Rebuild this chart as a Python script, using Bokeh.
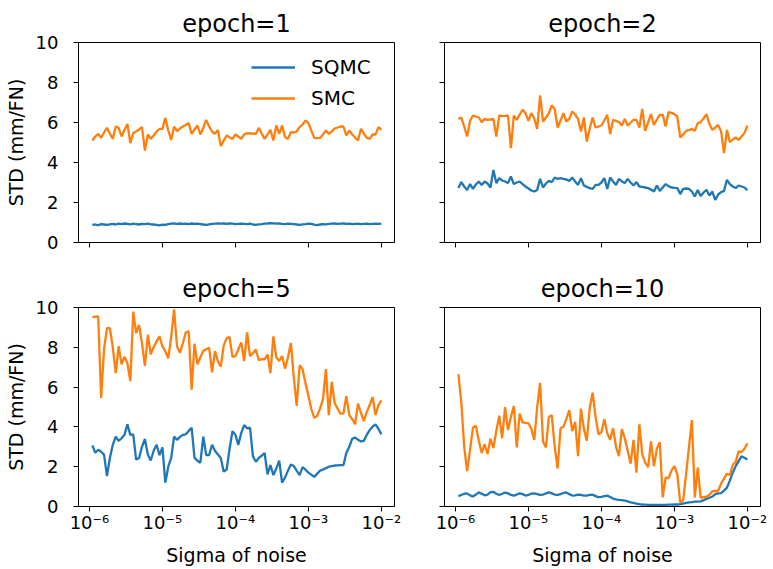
import numpy as np
from bokeh.plotting import figure
from bokeh.layouts import gridplot
from bokeh.models import Range1d, FixedTicker, CustomJSTickFormatter, Legend, LegendItem
from bokeh.embed import file_html
from bokeh.resources import INLINE

# noise levels (log-spaced grid of the experiment)
sigma = np.logspace(-5.96, -2.0, 100)

x_ticks = [1e-6, 1e-5, 1e-4, 1e-3, 1e-2]
y_ticks = [0, 2, 4, 6, 8, 10]
titles = ["epoch=1", "epoch=2", "epoch=5", "epoch=10"]
series_names = ["SQMC", "SMC"]

sqmc_e1 = [0.88,0.90,0.86,0.92,0.90,0.88,0.91,0.93,0.90,0.94,
           0.92,0.95,0.93,0.91,0.94,0.92,0.90,0.93,0.92,0.94,
           0.91,0.90,0.88,0.86,0.89,0.88,0.92,0.94,0.95,0.93,
           0.95,0.93,0.94,0.92,0.95,0.93,0.94,0.92,0.90,0.88,
           0.91,0.93,0.94,0.96,0.94,0.95,0.93,0.95,0.94,0.92,
           0.93,0.94,0.93,0.92,0.94,0.90,0.88,0.91,0.92,0.94,
           0.95,0.97,0.96,0.94,0.95,0.93,0.92,0.94,0.93,0.92,
           0.90,0.88,0.91,0.92,0.94,0.93,0.89,0.87,0.90,0.92,
           0.91,0.93,0.94,0.95,0.93,0.94,0.95,0.93,0.94,0.92,
           0.93,0.94,0.92,0.93,0.94,0.92,0.93,0.94,0.93,0.94]
smc_e1 = [5.10,5.30,5.43,5.23,5.50,5.73,5.45,5.18,5.80,5.73,
          5.30,5.62,5.93,4.97,5.47,5.55,5.65,5.77,4.60,5.40,
          5.18,5.35,5.55,5.68,5.68,6.23,5.60,5.13,5.80,5.57,
          5.70,5.80,5.88,5.97,5.43,5.65,5.85,5.40,5.75,6.13,
          5.80,5.55,5.43,5.63,4.82,5.10,5.35,5.25,5.18,5.40,
          5.30,5.18,5.40,5.47,5.45,5.45,5.43,5.73,5.45,5.18,
          5.40,5.63,5.10,5.85,5.43,5.85,5.27,5.18,5.52,5.50,
          5.55,5.77,5.90,6.10,5.97,5.60,5.23,5.22,5.23,5.40,
          5.60,5.43,5.55,5.70,5.75,5.80,5.80,5.35,5.60,5.40,
          5.25,5.10,5.68,5.45,5.23,5.18,5.40,5.40,5.77,5.63]
sqmc_e2 = [2.72,3.02,2.80,2.63,2.92,2.68,2.90,3.05,2.88,3.05,
           2.95,2.75,3.63,2.97,3.22,3.10,3.05,2.97,3.30,2.92,
           3.00,3.05,2.92,2.80,2.70,2.60,2.55,2.63,3.18,2.75,
           2.95,3.08,3.02,3.25,3.18,3.22,3.18,3.15,3.08,3.25,
           3.05,2.88,3.22,2.85,2.78,2.72,2.68,2.88,2.88,3.00,
           3.22,2.68,3.25,3.05,2.88,3.18,3.05,2.97,3.18,3.00,
           2.85,3.02,2.80,2.78,2.75,2.72,2.65,2.55,2.85,2.58,
           2.75,2.92,2.82,2.75,2.73,2.72,2.42,2.68,2.70,2.68,
           2.55,2.30,2.63,2.33,2.50,2.63,2.35,2.55,2.13,2.40,
           2.52,2.58,3.13,2.92,2.80,2.72,2.85,2.80,2.75,2.62]
smc_e2 = [6.18,6.25,5.80,5.30,6.08,6.35,6.30,6.25,6.02,6.18,
          6.13,6.15,6.18,5.30,6.35,6.32,6.33,6.35,4.72,6.35,
          6.13,6.40,6.63,6.47,6.08,6.47,6.20,5.68,7.35,6.05,
          6.25,6.47,6.85,6.68,5.75,6.10,6.47,6.05,6.18,6.55,
          6.40,6.18,5.55,6.25,5.05,5.70,6.25,5.75,5.80,5.85,
          6.10,6.38,5.42,6.13,6.08,6.02,5.85,6.18,5.85,6.00,
          6.13,6.13,5.75,6.68,5.58,6.00,6.42,5.88,6.15,6.38,
          6.38,5.80,6.52,6.48,6.42,6.30,5.25,5.40,5.58,5.62,
          5.68,5.58,5.97,6.02,6.20,6.42,5.92,5.63,5.75,5.88,
          5.55,4.47,5.63,5.02,5.15,5.25,5.13,5.30,5.47,5.85]
sqmc_e5 = [3.07,2.70,2.85,2.75,2.61,1.53,2.44,3.10,3.51,3.30,
           3.43,3.60,4.13,3.60,3.63,2.36,2.44,3.00,3.40,2.61,
           2.31,2.80,3.10,2.58,2.97,1.20,2.00,2.44,3.51,3.35,
           3.50,3.60,3.63,3.80,3.96,2.44,2.30,2.20,3.51,2.58,
           2.58,3.10,2.80,2.61,2.44,1.75,1.86,2.90,3.79,3.60,
           3.10,3.70,4.09,3.93,3.96,2.53,2.25,2.44,2.55,2.69,
           1.61,2.08,1.58,1.90,2.31,1.20,1.45,1.80,2.11,2.03,
           1.80,1.58,1.98,1.85,1.70,1.60,1.49,1.65,1.80,1.86,
           1.93,2.00,2.03,2.06,2.07,2.08,2.08,2.69,3.00,3.40,
           3.47,3.35,3.27,3.30,3.60,3.84,4.01,4.13,3.90,3.63]
smc_e5 = [9.50,9.54,9.55,5.45,7.89,8.96,8.96,8.00,6.70,8.05,
          7.15,7.52,7.20,6.30,9.79,8.71,9.12,8.20,7.06,8.63,
          7.65,8.00,8.30,8.55,8.05,7.80,7.45,8.50,9.90,8.05,
          7.72,8.20,8.75,8.80,5.87,8.18,7.15,7.50,7.81,7.90,
          7.98,6.74,7.81,7.30,7.03,8.10,8.46,8.51,7.52,7.56,
          7.89,8.25,7.31,8.75,7.56,7.70,7.89,7.36,7.40,7.39,
          7.64,6.70,8.55,7.50,7.31,7.56,6.93,7.50,8.22,6.50,
          5.05,7.10,6.90,6.20,5.58,4.90,4.46,4.55,4.92,5.40,
          6.90,4.59,6.27,5.20,4.92,4.67,4.67,5.55,4.59,4.40,
          4.13,5.17,4.70,4.29,4.75,5.10,5.50,4.59,5.10,5.33]
sqmc_e10 = [0.52,0.58,0.64,0.66,0.56,0.50,0.60,0.71,0.64,0.56,
            0.60,0.72,0.74,0.64,0.58,0.64,0.70,0.66,0.58,0.55,
            0.60,0.66,0.62,0.55,0.58,0.65,0.66,0.62,0.58,0.60,
            0.66,0.71,0.66,0.60,0.58,0.62,0.68,0.71,0.62,0.55,
            0.56,0.60,0.58,0.55,0.55,0.58,0.59,0.52,0.47,0.48,
            0.52,0.55,0.48,0.40,0.36,0.33,0.32,0.30,0.26,0.21,
            0.18,0.15,0.12,0.10,0.09,0.08,0.08,0.08,0.08,0.08,
            0.08,0.08,0.09,0.09,0.10,0.10,0.12,0.15,0.18,0.21,
            0.22,0.24,0.25,0.26,0.32,0.38,0.44,0.50,0.62,0.66,
            0.67,0.80,0.95,1.30,1.70,2.03,2.28,2.52,2.45,2.36]
smc_e10 = [6.65,5.25,3.00,1.78,2.85,3.96,4.06,3.30,2.69,3.13,
           2.64,3.40,2.94,3.80,4.56,3.43,4.99,3.84,4.50,5.05,
           2.97,4.67,4.23,4.20,4.18,3.90,3.35,5.00,6.21,3.27,
           2.97,4.50,4.59,3.00,1.91,3.93,4.01,4.40,4.84,3.79,
           4.26,2.53,4.92,3.90,3.30,4.96,5.72,4.50,3.63,3.73,
           4.39,3.68,3.35,3.93,3.00,2.53,3.89,3.43,2.80,2.15,
           3.35,1.70,4.13,2.61,2.20,1.98,3.27,2.03,2.90,3.23,
           0.46,1.45,1.42,1.80,2.03,1.62,0.20,0.30,1.60,3.00,
           4.34,0.46,1.95,0.43,0.48,0.49,0.59,0.76,0.78,0.79,
           1.15,1.40,1.65,1.58,2.10,2.24,2.77,2.74,2.90,3.18]

BLUE = "#1f77b4"
ORANGE = "#ff7f0e"
FONT = "DejaVu Sans"

sup_code = """
const e = Math.round(Math.log10(tick));
const sup = {'-':'\u207b','0':'\u2070','1':'\u00b9','2':'\u00b2','3':'\u00b3','4':'\u2074','5':'\u2075','6':'\u2076','7':'\u2077','8':'\u2078','9':'\u2079'};
return '10' + String(e).split('').map(c => sup[c]).join('');
"""


def make(title, sqmc, smc, show_x, show_y, width, height, bl, br, bt, bb, legend=False):
    p = figure(width=width, height=height, x_axis_type="log",
               x_range=Range1d(10 ** -6.15, 10 ** -1.82), y_range=Range1d(0, 10),
               output_backend="svg", toolbar_location=None,
               min_border_left=bl, min_border_right=br, min_border_top=bt, min_border_bottom=bb,
               title=title)
    p.title.align = "center"
    p.title.text_font = FONT
    p.title.text_font_size = "24px"
    p.title.text_font_style = "normal"
    p.title.text_color = "black"
    p.title.standoff = 9
    p.grid.visible = False
    p.outline_line_color = "black"
    p.outline_line_width = 1
    p.outline_line_alpha = 1

    r1 = p.line(sigma, sqmc, line_color=BLUE, line_width=2.3)
    r2 = p.line(sigma, smc, line_color=ORANGE, line_width=2.3)

    for ax in (p.xaxis[0], p.yaxis[0]):
        ax.axis_line_color = "black"
        ax.axis_line_width = 1
        ax.major_tick_line_color = "black"
        ax.major_tick_line_width = 1
        ax.major_tick_out = 5
        ax.major_tick_in = 0
        ax.minor_tick_line_color = None
        ax.major_label_text_font = FONT
        ax.major_label_text_color = "black"
        ax.axis_label_text_font = FONT
        ax.axis_label_text_font_style = "normal"
        ax.axis_label_text_font_size = "19px"
        ax.axis_label_text_color = "black"

    p.xaxis.ticker = FixedTicker(ticks=x_ticks)
    p.yaxis.ticker = FixedTicker(ticks=y_ticks)
    if show_x:
        p.xaxis.formatter = CustomJSTickFormatter(code=sup_code)
        p.xaxis.major_label_text_font_size = "18px"
        p.xaxis.major_label_standoff = 0
        p.xaxis.axis_label = "Sigma of noise"
        p.xaxis.axis_label_standoff = 8
    else:
        p.xaxis.formatter = CustomJSTickFormatter(code="return '';")
        p.xaxis.major_label_text_font_size = "0px"
    if show_y:
        p.yaxis.major_label_text_font_size = "18px"
        p.yaxis.major_label_standoff = 15
        p.yaxis.axis_label = "STD (mm/FN)"
        p.yaxis.axis_label_standoff = 6
    else:
        p.yaxis.formatter = CustomJSTickFormatter(code="return '';")
        p.yaxis.major_label_text_font_size = "0px"

    if legend:
        leg = Legend(items=[LegendItem(label=series_names[0], renderers=[r1]),
                            LegendItem(label=series_names[1], renderers=[r2])],
                     location=(173, 132))
        leg.label_text_font = FONT
        leg.label_text_font_size = "20px"
        leg.label_text_color = "black"
        leg.glyph_width = 44
        leg.glyph_height = 22
        leg.label_height = 22
        leg.label_standoff = 16
        leg.spacing = 7
        leg.padding = 0
        leg.margin = 0
        leg.border_line_alpha = 0
        leg.background_fill_alpha = 0
        p.add_layout(leg)
    return p


p1 = make(titles[0], sqmc_e1, smc_e1, False, True, 408, 268, 78, 14, 42, 26, legend=True)
p2 = make(titles[1], sqmc_e2, smc_e2, False, False, 362, 268, 36, 10, 42, 26)
p3 = make(titles[2], sqmc_e5, smc_e5, True, True, 408, 300, 78, 14, 37, 62)
p4 = make(titles[3], sqmc_e10, smc_e10, True, False, 362, 300, 36, 10, 37, 62)

grid = gridplot([[p1, p2], [p3, p4]], toolbar_location=None)

open("out.html", "w").write(file_html(grid, INLINE))
